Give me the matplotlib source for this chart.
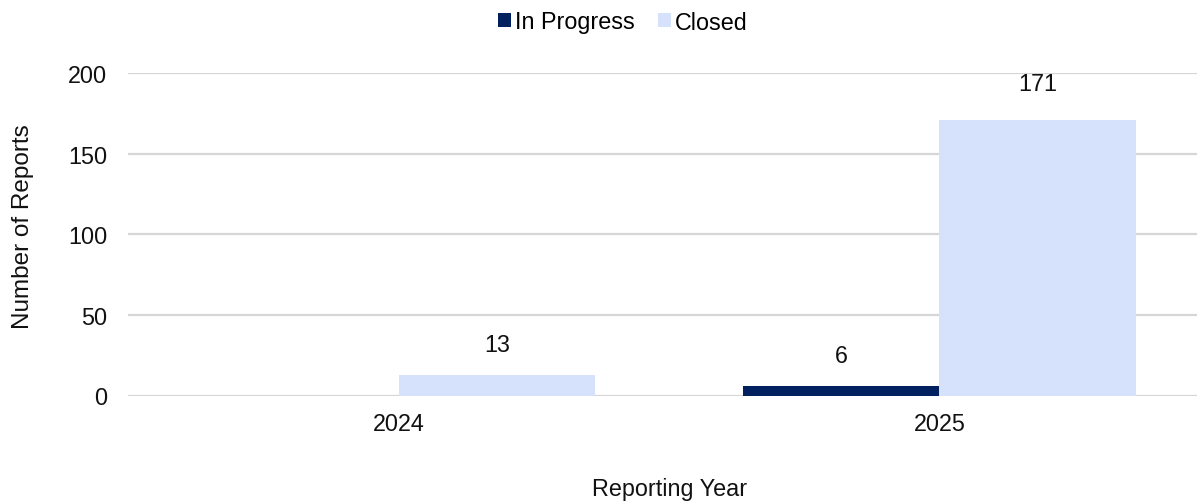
import numpy as np
import matplotlib.pyplot as plt

plt.rcParams['font.family'] = ['Liberation Sans', 'DejaVu Sans']

years = ['2024', '2025']
in_progress = [0, 6]
closed = [13, 171]
series_names = ['In Progress', 'Closed']
colors = ['#00205F', '#D6E2FB']

FS = 16.8
W, H = 1197, 502
fig = plt.figure(figsize=(W / 100, H / 100), dpi=100)
# axes runs a little past the right edge, so the last gridlines get clipped
ax = fig.add_axes([128 / W, 1 - 396.5 / H, (1210 - 128) / W, (396.5 - 74) / H])

x = np.arange(len(years))
bw = 0.364
b1 = ax.bar(x - bw / 2, in_progress, bw, color=colors[0], label=series_names[0], zorder=3)
b2 = ax.bar(x + bw / 2, closed, bw, color=colors[1], label=series_names[1], zorder=3)

for bars, vals in ((b1, in_progress), (b2, closed)):
    for rect, v in zip(bars, vals):
        if v == 0:
            continue
        off = 30 if v < 100 else 36
        ax.annotate(str(v), (rect.get_x() + rect.get_width() / 2, v),
                    xytext=(0, off * 0.72), textcoords='offset points',
                    ha='center', va='center', fontsize=FS, color='#111111')

ax.set_xlim(-0.5, 1.5)
ax.set_ylim(0, 200)
ax.set_yticks([0, 50, 100, 150, 200])
ax.set_xticks(x)
ax.set_xticklabels(years)
ax.tick_params(axis='both', length=0, labelsize=FS, colors='#111111')
ax.tick_params(axis='x', pad=12)
ax.tick_params(axis='y', pad=15)
ax.grid(axis='y', color='#d6d6d6', linewidth=1.6, zorder=0)
for s in ax.spines.values():
    s.set_visible(False)

fig.text(23 / W, 1 - 227 / H, 'Number of Reports', rotation=90,
         ha='center', va='center', fontsize=17.5, color='#111111')
fig.text(670 / W, 1 - 490 / H, 'Reporting Year',
         ha='center', va='center', fontsize=FS, color='#111111')

fig.legend(loc='center', bbox_to_anchor=(623 / W, 1 - 23 / H), ncol=2,
           frameon=False, fontsize=FS, handlelength=0.55, handleheight=0.55,
           handletextpad=0.2, columnspacing=0.97)

fig.savefig('out.png', dpi=100)
